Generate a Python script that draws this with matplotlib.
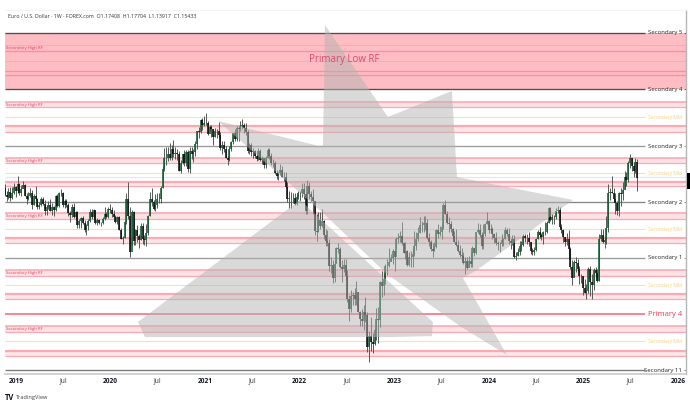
import matplotlib
matplotlib.use("Agg")
import matplotlib.pyplot as plt
import numpy as np
import pandas as pd
from matplotlib.patches import Polygon, Rectangle

FONT = "Open Sans"
plt.rcParams["font.family"] = FONT

TITLE = "Euro / U.S. Dollar · 1W · FOREX.com  O1.17408  H1.17704  L1.13917  C1.15433"
FIRST_WEEK = "2018-11-12"
FIRST_OPEN = 1.133

c18 = [1.142,1.134,1.132,1.138,1.131,1.137,1.144]
h18 = [1.145,1.147,1.139,1.142,1.144,1.144,1.148]
l18 = [1.122,1.133,1.127,1.130,1.127,1.130,1.135]

c19 = [1.139,1.147,1.136,1.141,1.146,1.133,1.130,1.133,1.137,1.123,1.133,1.130,1.120,
       1.122,1.130,1.124,1.115,1.120,1.123,1.116,1.120,1.117,1.133,1.121,1.137,1.137,
       1.122,1.127,1.122,1.113,1.111,1.120,1.109,1.114,1.099,1.104,1.107,1.102,1.094,
       1.098,1.104,1.114,1.108,1.117,1.102,1.105,1.102,1.102,1.106,1.112,1.108,1.118]
h19 = [1.145,1.157,1.148,1.146,1.151,1.147,1.136,1.138,1.142,1.140,1.135,1.145,1.131,
       1.126,1.132,1.132,1.128,1.123,1.127,1.129,1.125,1.121,1.134,1.135,1.138,1.141,
       1.138,1.129,1.129,1.125,1.115,1.124,1.125,1.116,1.116,1.106,1.109,1.110,1.105,
       1.100,1.106,1.118,1.118,1.118,1.117,1.107,1.106,1.103,1.108,1.120,1.114,1.120]
l19 = [1.132,1.136,1.134,1.133,1.143,1.133,1.124,1.128,1.132,1.118,1.123,1.128,1.118,
       1.118,1.121,1.123,1.111,1.111,1.118,1.115,1.111,1.110,1.116,1.120,1.120,1.133,
       1.120,1.119,1.120,1.110,1.103,1.108,1.107,1.105,1.096,1.096,1.096,1.100,1.091,
       1.088,1.094,1.103,1.106,1.105,1.100,1.099,1.100,1.098,1.101,1.105,1.107,1.107]

c20 = [1.117,1.112,1.109,1.103,1.109,1.094,1.083,1.085,1.103,1.129,1.110,1.069,1.114,
       1.081,1.094,1.087,1.082,1.098,1.084,1.082,1.090,1.110,1.129,1.126,1.118,1.122,
       1.130,1.130,1.143,1.165,1.178,1.179,1.184,1.179,1.190,1.184,1.185,1.184,1.163,
       1.172,1.183,1.172,1.186,1.165,1.187,1.183,1.186,1.196,1.212,1.211,1.226,1.219]
h20 = [1.124,1.120,1.117,1.111,1.110,1.110,1.096,1.087,1.104,1.136,1.150,1.120,1.117,
       1.115,1.095,1.099,1.089,1.102,1.102,1.088,1.100,1.111,1.138,1.142,1.128,1.135,
       1.137,1.137,1.145,1.169,1.191,1.192,1.192,1.197,1.194,1.201,1.192,1.190,1.187,
       1.176,1.183,1.188,1.188,1.188,1.192,1.192,1.189,1.200,1.212,1.217,1.227,1.228]
l20 = [1.113,1.109,1.108,1.102,1.100,1.094,1.083,1.078,1.085,1.101,1.106,1.064,1.077,
       1.077,1.077,1.080,1.073,1.082,1.078,1.077,1.076,1.088,1.110,1.121,1.117,1.116,
       1.119,1.125,1.125,1.142,1.163,1.170,1.175,1.176,1.176,1.180,1.177,1.176,1.163,
       1.160,1.171,1.169,1.169,1.162,1.160,1.177,1.174,1.181,1.190,1.203,1.210,1.213]

c21 = [1.222,1.222,1.208,1.217,1.214,1.205,1.212,1.212,1.207,1.191,1.195,1.190,1.179,
       1.176,1.190,1.198,1.209,1.202,1.216,1.214,1.218,1.219,1.216,1.211,1.187,1.194,
       1.186,1.187,1.181,1.177,1.187,1.176,1.179,1.170,1.179,1.188,1.181,1.173,1.172,
       1.160,1.157,1.160,1.164,1.156,1.156,1.144,1.129,1.131,1.131,1.131,1.124,1.132]
h21 = [1.231,1.235,1.225,1.220,1.219,1.214,1.216,1.215,1.224,1.211,1.199,1.199,1.193,
       1.181,1.193,1.199,1.209,1.215,1.218,1.216,1.225,1.227,1.222,1.222,1.213,1.197,
       1.197,1.191,1.188,1.183,1.191,1.190,1.181,1.176,1.181,1.191,1.191,1.185,1.177,
       1.175,1.164,1.162,1.171,1.169,1.161,1.161,1.149,1.139,1.138,1.136,1.136,1.135]
l21 = [1.218,1.220,1.207,1.212,1.205,1.195,1.204,1.203,1.205,1.188,1.184,1.186,1.178,
       1.170,1.175,1.187,1.196,1.199,1.199,1.200,1.212,1.215,1.210,1.207,1.185,1.184,
       1.181,1.178,1.178,1.175,1.176,1.175,1.171,1.166,1.166,1.178,1.177,1.170,1.168,
       1.159,1.153,1.152,1.158,1.155,1.151,1.143,1.126,1.119,1.119,1.125,1.122,1.123]

c22 = [1.137,1.136,1.141,1.135,1.115,1.145,1.135,1.132,1.127,1.093,1.091,1.105,1.098,
       1.104,1.088,1.081,1.079,1.054,1.055,1.041,1.056,1.073,1.072,1.052,1.050,1.055,
       1.043,1.018,1.008,1.021,1.022,1.018,1.026,1.004,0.997,0.995,1.004,1.001,0.969,
       0.980,0.974,0.972,0.986,0.997,0.996,1.036,1.032,1.040,1.054,1.054,1.058,1.062]
h22 = [1.139,1.139,1.148,1.148,1.136,1.152,1.150,1.139,1.141,1.122,1.112,1.114,1.114,
       1.118,1.105,1.095,1.094,1.084,1.064,1.060,1.060,1.075,1.079,1.075,1.060,1.061,
       1.061,1.049,1.022,1.028,1.026,1.030,1.037,1.020,1.006,1.008,1.012,1.020,1.005,
       0.985,0.999,0.983,0.988,1.009,1.010,1.037,1.048,1.045,1.056,1.061,1.074,1.067]
l22 = [1.129,1.127,1.132,1.130,1.112,1.112,1.129,1.127,1.112,1.088,1.081,1.092,1.095,
       1.097,1.084,1.076,1.076,1.048,1.046,1.035,1.036,1.057,1.068,1.051,1.036,1.047,
       1.038,1.015,0.995,1.005,1.012,1.012,1.012,1.004,0.990,0.990,0.986,0.994,0.964,
       0.954,0.965,0.963,0.971,0.976,0.973,0.989,1.020,1.022,1.034,1.044,1.052,1.059]

c23 = [1.070,1.064,1.083,1.085,1.087,1.079,1.068,1.070,1.055,1.064,1.064,1.067,1.076,
       1.084,1.090,1.099,1.099,1.102,1.102,1.085,1.080,1.072,1.070,1.075,1.094,1.089,
       1.091,1.097,1.123,1.112,1.102,1.100,1.095,1.087,1.080,1.077,1.070,1.066,1.065,
       1.057,1.059,1.051,1.059,1.056,1.073,1.068,1.091,1.094,1.088,1.076,1.089,1.101]
h23 = [1.072,1.071,1.086,1.090,1.093,1.103,1.080,1.080,1.071,1.069,1.070,1.074,1.093,
       1.092,1.097,1.108,1.104,1.110,1.110,1.106,1.090,1.082,1.079,1.080,1.095,1.101,
       1.098,1.101,1.125,1.128,1.115,1.108,1.104,1.096,1.093,1.095,1.082,1.077,1.074,
       1.069,1.063,1.064,1.065,1.070,1.076,1.073,1.092,1.102,1.101,1.091,1.100,1.102]
l23 = [1.056,1.048,1.073,1.079,1.080,1.077,1.068,1.061,1.054,1.054,1.052,1.052,1.065,
       1.071,1.081,1.090,1.092,1.092,1.094,1.084,1.076,1.070,1.064,1.070,1.074,1.085,
       1.087,1.083,1.095,1.112,1.100,1.091,1.091,1.085,1.080,1.076,1.069,1.063,1.060,
       1.056,1.045,1.050,1.052,1.052,1.052,1.065,1.067,1.090,1.086,1.072,1.072,1.087]

c24 = [1.104,1.094,1.095,1.089,1.085,1.079,1.078,1.078,1.082,1.084,1.094,1.089,1.081,
       1.079,1.084,1.064,1.065,1.069,1.076,1.077,1.087,1.085,1.085,1.080,1.070,1.069,
       1.071,1.084,1.091,1.088,1.086,1.091,1.092,1.102,1.119,1.105,1.108,1.108,1.116,
       1.117,1.097,1.094,1.086,1.080,1.083,1.072,1.053,1.041,1.058,1.057,1.050,1.043]
h24 = [1.114,1.105,1.100,1.097,1.090,1.092,1.081,1.080,1.089,1.085,1.097,1.096,1.096,
       1.083,1.088,1.088,1.069,1.073,1.081,1.081,1.089,1.089,1.089,1.092,1.080,1.074,
       1.075,1.085,1.094,1.097,1.090,1.093,1.103,1.104,1.120,1.120,1.112,1.111,1.119,
       1.121,1.120,1.101,1.095,1.086,1.090,1.094,1.075,1.060,1.060,1.063,1.061,1.054]
l24 = [1.100,1.090,1.091,1.083,1.079,1.077,1.071,1.069,1.076,1.076,1.083,1.087,1.078,
       1.072,1.077,1.062,1.060,1.065,1.066,1.070,1.076,1.080,1.078,1.076,1.067,1.066,
       1.066,1.070,1.084,1.085,1.082,1.078,1.088,1.090,1.102,1.104,1.101,1.100,1.106,
       1.113,1.096,1.090,1.080,1.076,1.077,1.061,1.050,1.033,1.042,1.047,1.048,1.034]

c25 = [1.043,1.030,1.024,1.027,1.050,1.036,1.033,1.049,1.046,1.037,1.083,1.088,1.080,
       1.082,1.096,1.136,1.138,1.136,1.130,1.125,1.116,1.136,1.135,1.140,1.155,1.152,
       1.172,1.178,1.169,1.163,1.174,1.154]
h25 = [1.045,1.043,1.039,1.034,1.052,1.054,1.045,1.051,1.053,1.050,1.089,1.095,1.095,
       1.086,1.110,1.147,1.142,1.157,1.142,1.136,1.127,1.138,1.142,1.149,1.163,1.162,
       1.175,1.183,1.178,1.172,1.179,1.177]
l25 = [1.035,1.022,1.024,1.018,1.025,1.021,1.018,1.028,1.041,1.036,1.037,1.081,1.079,
       1.074,1.078,1.091,1.128,1.137,1.126,1.112,1.111,1.110,1.121,1.128,1.141,1.145,
       1.149,1.166,1.163,1.155,1.160,1.139]

closes = c18 + c19 + c20 + c21 + c22 + c23 + c24 + c25
highs = h18 + h19 + h20 + h21 + h22 + h23 + h24 + h25
lows = l18 + l19 + l20 + l21 + l22 + l23 + l24 + l25

# Horizontal levels (price)
sec_names = ["Secondary 5", "Secondary 4", "Secondary 3", "Secondary 2", "Secondary 1", "Secondary 11"]
sec_levels = [1.3418, 1.2660, 1.1933, 1.1259, 1.0624, 0.9457]
sec_colors = ["#4d4d4d", "#4d4d4d", "#9b9b9b", "#858585", "#9b9b9b", "#7a7a7a"]
primary_name = "Primary 4"
primary_level = 1.0024
mid_levels = [1.2294, 1.1600, 1.0945, 1.0327, 0.9743]
zone_top, zone_bottom = 1.3418, 1.2660
zone_thin = 1.3248
zone_thick = [1.3174, 1.2903, 1.2846]
zone_mid = 1.3030
high_bands = [(1.2495, 1.2422), (1.1789, 1.1721), (1.1128, 1.1059), (1.0495, 1.0432), (0.9902, 0.9841)]
low_bands = [(1.2180, 1.2108), (1.1492, 1.1444), (1.0843, 1.0787), (1.0231, 1.0178), (0.9646, 0.9599)]
grey_line = 1.1552
rf_label_levels = [1.3210, 1.2458, 1.1755, 1.1093, 1.0463, 0.9871]

# Hand-drawn star shape (year, price)
star_upper_x = [2021.136,2022.246,2022.267,2022.933,2023.610,2023.663,2024.890,2023.875,2023.727,2024.192,2023.695,2022.923,2022.246]
star_upper_y = [1.2247,1.1921,1.3530,1.2298,1.2634,1.1555,1.1283,1.0492,1.0405,0.9606,0.9899,1.0448,1.1132]
star_lower_x = [2020.290,2022.003,2022.923,2023.409,2023.399,2022.955,2020.364]
star_lower_y = [0.9941,1.1283,1.0384,0.9941,0.9797,0.9787,0.9787]

tick_pos = [2019,2019.5,2020,2020.5,2021,2021.5,2022,2022.5,2023,2023.5,2024,2024.5,2025,2025.5,2026]
tick_lab = ["2019","Jul","2020","Jul","2021","Jul","2022","Jul","2023","Jul","2024","Jul","2025","Jul","2026"]

W, H = 690, 405
fig = plt.figure(figsize=(6.9, 4.05), dpi=100, facecolor="white")
ax = fig.add_axes([5/W, 1-374/H, 681/W, 364/H])
ax.set_yscale("log")
ax.set_xlim(2018.884, 2026.085)
ax.set_ylim(0.9419, 1.3742)
ax.yaxis.set_visible(False)
ax.minorticks_off()
ax.spines["left"].set_visible(False)
ax.spines["right"].set_color("#b5b5b5")
ax.spines["right"].set_linewidth(1.0)
ax.spines["bottom"].set_color("#c9c9c9")
ax.spines["bottom"].set_linewidth(1.2)
ax.spines["top"].set_color("#f3f3f3")
ax.spines["top"].set_linewidth(0.7)

ax.set_xticks(tick_pos)
ax.set_xticklabels(tick_lab, fontsize=4.8, color="#333333")
ax.tick_params(axis="x", length=0, pad=2.6)
for t, lab in zip(ax.get_xticklabels(), tick_lab):
    if lab != "Jul":
        t.set_fontweight("bold")
        t.set_color("#131722")

tr = ax.get_yaxis_transform()
LINE_END = 0.9405

# zone
ax.axhspan(zone_bottom, zone_top, color="#febcc3", lw=0, zorder=1)
ax.hlines(zone_thin, 0, 1, transform=tr, color="#f9a3ad", lw=0.5, zorder=2)
ax.hlines(zone_mid, 0, 1, transform=tr, color="#f9b090", lw=0.6, zorder=2)
ax.hlines(zone_thick, 0, 1, transform=tr, color="#fc8d9a", lw=0.9, zorder=2)

# bands
for top, bot in high_bands:
    ax.axhspan(bot, top, color="#fde2e5", lw=0, zorder=1)
    ax.hlines([top, bot], 0, 1, transform=tr, color="#fbaab4", lw=[1.2, 0.9], zorder=2)
for top, bot in low_bands:
    ax.axhspan(bot, top, color="#fde6e8", lw=0, zorder=1)
    ax.hlines([top, bot], 0, 1, transform=tr, color="#fbaab4", lw=[1.6, 0.9], zorder=2)

ax.hlines(grey_line, 0, 1, transform=tr, color="#e6e6e6", lw=0.8, zorder=2)
ax.hlines(mid_levels, 0, LINE_END, transform=tr, color="#fbdfae", lw=0.8, zorder=2)
ax.hlines(sec_levels, 0, LINE_END, transform=tr, colors=sec_colors, lw=0.95, zorder=2)
ax.hlines(sec_levels, 0.997, 1, transform=tr, colors=sec_colors, lw=0.7, zorder=2)
ax.hlines(primary_level, 0, LINE_END, transform=tr, color="#fb6f80", lw=1.2, zorder=2)

# candles
dates = pd.date_range(FIRST_WEEK, periods=len(closes), freq="7D")
xs = np.array([d.year + (d.dayofyear - 1) / 365.25 for d in dates])
c = np.array(closes)
o = np.array([FIRST_OPEN] + closes[:-1])
hi = np.array(highs)
lo = np.array(lows)
up = c >= o
ax.vlines(xs, lo, hi, color="#4a4f4e", lw=0.65, zorder=3)
ax.vlines(xs[up], o[up], c[up], color="#0e5f30", lw=1.15, zorder=4)
ax.vlines(xs[~up], c[~up], o[~up], color="#0c0c0c", lw=1.15, zorder=4)

# star
for px, py in ((star_upper_x, star_upper_y), (star_lower_x, star_lower_y)):
    ax.add_patch(Polygon(np.column_stack([px, py]), closed=True, facecolor="#b4b4b4",
                         alpha=0.5, edgecolor="none", zorder=5))

# labels
for name, lev in zip(sec_names, sec_levels):
    ax.text(0.9945, lev, name, transform=tr, ha="right", va="center", fontsize=4.3,
            color="#222222", zorder=7)
ax.text(0.9945, primary_level, primary_name, transform=tr, ha="right", va="center",
        fontsize=5.5, color="#f23a55", zorder=7)
for lev in mid_levels:
    ax.text(0.9945, lev, "Secondary Mid", transform=tr, ha="right", va="center",
            fontsize=3.6, color="#f7cf7f", zorder=7)
for lev in rf_label_levels:
    ax.text(0.0015, lev, "Secondary High RF", transform=tr, ha="left", va="center",
            fontsize=3.1, color="#e8405a", zorder=7)
ax.text(2022.475, 1.3060, "Primary Low RF", ha="center", va="center", fontsize=7.0,
        color="#d84a6c", zorder=7)

ax.add_patch(Rectangle((687/W, 1-189/H), 3/W, 16/H, transform=fig.transFigure,
                       facecolor="black", edgecolor="none", clip_on=False, zorder=9))

fig.text(8/W, 1-17/H, TITLE, fontsize=3.8, color="#333333", va="center", ha="left")
fig.text(4.5/W, 1-397/H, "TV", fontsize=5.5, fontweight="bold", color="#131722", va="center", ha="left")
fig.text(15/W, 1-397/H, "TradingView", fontsize=4.1, color="#444444", va="center", ha="left")

fig.savefig("out.png", dpi=100, facecolor="white")
